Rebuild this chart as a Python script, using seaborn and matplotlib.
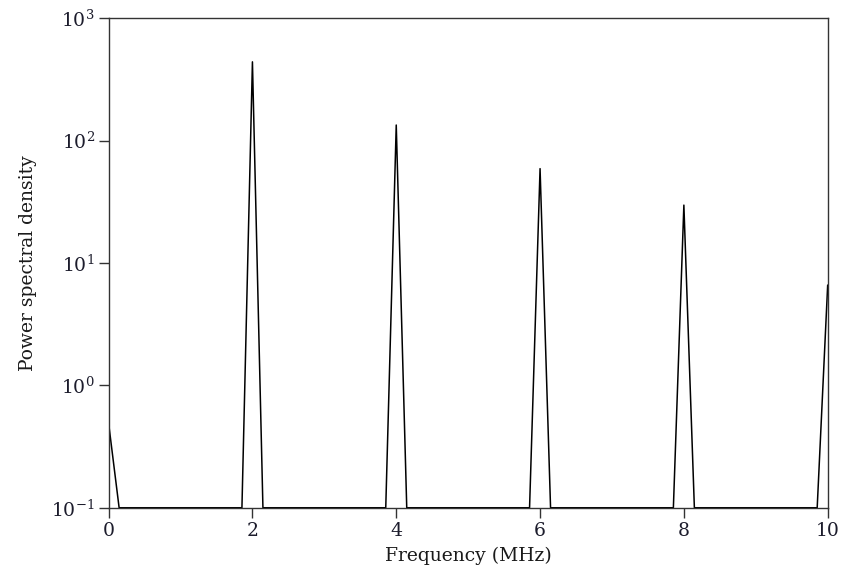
import numpy as np
import pandas as pd
import matplotlib
matplotlib.use("Agg")
import matplotlib.pyplot as plt
import seaborn as sns
from matplotlib.ticker import LogFormatterMathtext, FixedLocator

# Data (values floored at 0.1 between harmonics)
freq_mhz = [0.0, 0.146, 1.854, 2.0, 2.146, 3.854, 4.0, 4.146,
            5.854, 6.0, 6.146, 7.854, 8.0, 8.146, 9.854, 10.0]
psd = [0.49, 0.1, 0.1, 440.0, 0.1, 0.1, 134.0, 0.1,
       0.1, 59.0, 0.1, 0.1, 29.7, 0.1, 0.1, 6.6]
x_ticks = [0, 2, 4, 6, 8, 10]
y_ticks = [1e-1, 1e0, 1e1, 1e2, 1e3]

df = pd.DataFrame({"Frequency (MHz)": freq_mhz, "PSD": psd})

sns.set_style("white")
plt.rcParams["font.family"] = ["DejaVu Serif"]
plt.rcParams["mathtext.fontset"] = "dejavuserif"

fig = plt.figure(figsize=(8.42, 5.87), dpi=100)
ax = fig.add_axes([0.129, 0.135, 0.854, 0.834])

sns.lineplot(data=df, x="Frequency (MHz)", y="PSD", estimator=None,
             color="black", linewidth=1.1, ax=ax, sort=False)

ax.set_yscale("log")
ax.set_xlim(0, 10)
ax.set_ylim(0.1, 1000)
ax.xaxis.set_major_locator(FixedLocator(x_ticks))
ax.yaxis.set_major_locator(FixedLocator(y_ticks))
ax.yaxis.set_major_formatter(LogFormatterMathtext())
ax.yaxis.set_minor_locator(plt.NullLocator())
ax.xaxis.set_minor_locator(plt.NullLocator())

ax.tick_params(axis="both", which="major", direction="out", length=7,
               width=1, labelsize=13.5, colors="#333333", labelcolor="#1c1c2c",
               left=True, bottom=True, top=False, right=False, pad=3)
for s in ax.spines.values():
    s.set_color("#333333")
    s.set_linewidth(1.0)
    s.set_visible(True)

ax.set_xlabel("Frequency (MHz)", fontsize=13.5, color="#1a1a1a", labelpad=5)
ax.set_ylabel("Power spectral density", fontsize=13.5, color="#1a1a1a", labelpad=10)

fig.savefig("out.png", dpi=100)
